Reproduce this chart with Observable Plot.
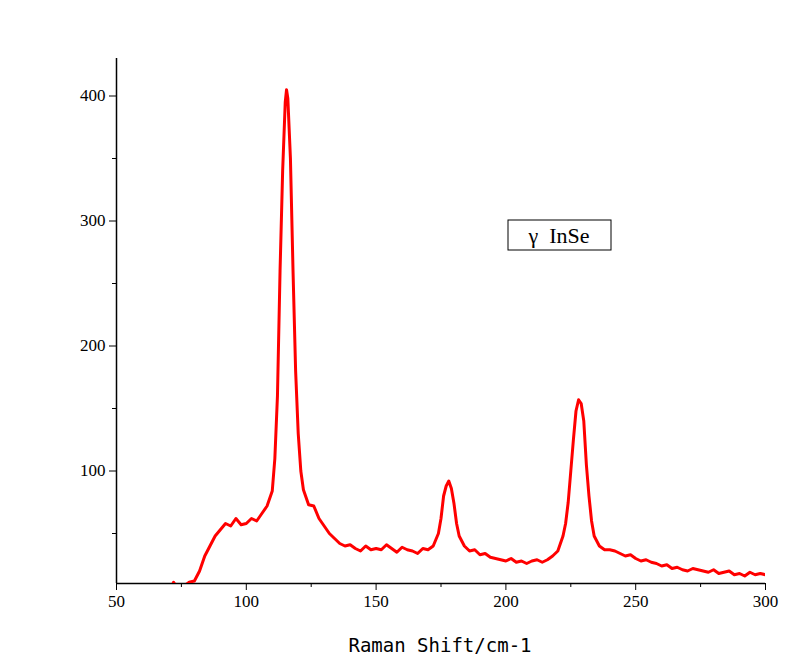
<!DOCTYPE html>
<html><head><meta charset="utf-8">
<script src="https://cdn.jsdelivr.net/npm/d3@7"></script>
<script src="https://cdn.jsdelivr.net/npm/@observablehq/plot@0.6"></script>
<style>body{margin:0;background:#fff}</style>
</head><body><div id="c"></div>
<script>
const shift = [70,72,74,76,78,80,82,84,86,88,90,92,94,96,98,100,102,104,106,108,110,111,112,113,114,115,115.5,116,117,118,119,120,121,122,124,126,128,130,132,134,136,138,140,142,144,146,148,150,152,154,156,158,160,162,164,166,168,170,172,174,175,176,177,178,179,180,181,182,184,186,188,190,192,194,196,198,200,202,204,206,208,210,212,214,216,218,220,222,223,224,225,226,227,228,229,230,231,232,233,234,236,238,240,242,244,246,248,250,252,254,256,258,260,262,264,266,268,270,272,274,276,278,280,282,284,286,288,290,292,294,296,298,300];
const intensity = [2,11,4,8,11,12,20,32,40,48,53,58,56,62,57,58,62,60,66,72,84,110,160,260,340,395,405,398,350,260,180,130,100,85,73,72,62,56,50,46,42,40,41,38,36,40,37,38,37,41,38,35,39,37,36,34,38,37,40,50,62,80,88,92,86,74,58,48,40,36,37,33,34,31,30,29,28,30,27,28,26,28,29,27,29,32,36,48,58,75,100,125,148,157,154,140,105,80,60,48,40,37,37,36,34,32,33,30,28,29,27,26,24,25,22,23,21,20,22,21,20,19,21,18,19,20,17,18,16,19,17,18,17];
const data = shift.map((x,i)=>({x, y:intensity[i]}));
const xTicks=[50,100,150,200,250,300], xMinor=[75,125,175,225,275];
const yTicks=[100,200,300,400], yMinor=[50,150,250,350];
const font="'Liberation Serif', serif";
const plot = Plot.plot({
  width:800, height:663,
  marginLeft:116, marginRight:35, marginTop:58, marginBottom:80,
  style:{fontFamily:font, fontSize:"17px", color:"#000"},
  x:{domain:[50,300]},
  y:{domain:[10,430]},
  marks:[
    Plot.axisX({ticks:xTicks, tickSize:7, tickPadding:4, label:null}),
    Plot.axisX({ticks:xMinor, tickSize:4, tickFormat:()=>"", label:null}),
    Plot.axisY({ticks:yTicks, tickSize:7, tickPadding:4, label:null}),
    Plot.axisY({ticks:yMinor, tickSize:4, tickFormat:()=>"", label:null}),
    Plot.ruleX([50],{stroke:"#000", strokeWidth:1.5}),
    Plot.ruleY([10],{stroke:"#000", strokeWidth:1.5}),
    Plot.line(data,{x:"x", y:"y", stroke:"#ff0000", strokeWidth:3, clip:true})
  ]
});
document.getElementById("c").append(plot);
const svg = d3.select(plot);
svg.append("text").attr("x",440).attr("y",652).attr("text-anchor","middle").attr("font-family","'DejaVu Sans Mono', monospace").attr("font-size",19).text("Raman Shift/cm-1");
svg.append("rect").attr("x",508).attr("y",220).attr("width",103).attr("height",30).attr("fill","none").attr("stroke","#000");
svg.append("text").attr("x",559).attr("y",243).attr("text-anchor","middle").attr("font-family",font).attr("font-size",22).attr("xml:space","preserve").text("γ  InSe");
</script></body></html>
